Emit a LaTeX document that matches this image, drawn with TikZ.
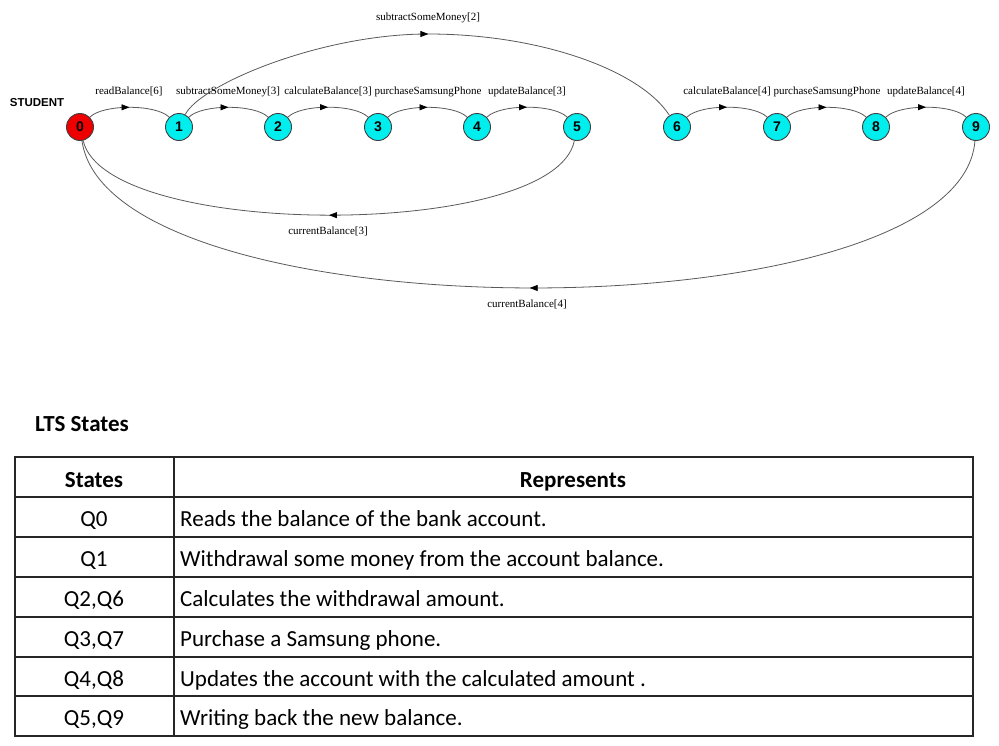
\documentclass[tikz,border=0pt]{standalone}
\usepackage{fontspec}
\newfontfamily\lblfont{Liberation Serif}
\newfontfamily\arialfont{Liberation Sans}
\newfontfamily\calfont{Carlito}
\usetikzlibrary{arrows.meta,decorations.markings}
\definecolor{stcyan}{RGB}{0,238,238}
\definecolor{stred}{RGB}{238,0,0}
\tikzset{
  state/.style={circle, draw=black!75, line width=0.9pt, fill=stcyan, minimum size=27pt, inner sep=0pt,
    font=\arialfont\bfseries\fontsize{14}{14}\selectfont},
  initstate/.style={state, fill=stred},
  trans/.style={draw=black!65, line width=0.8pt, postaction={decorate},
    decoration={markings, mark=at position 0.5 with {\arrow[black]{Triangle[length=8pt,width=6pt]}}}},
  lbl/.style={font=\lblfont\fontsize{11}{12}\selectfont, inner sep=0pt, text height=7.5pt, text depth=2.5pt},
  tab/.style={font=\calfont\fontsize{23}{26}\selectfont, inner sep=0pt, text height=15pt, text depth=4pt, yshift=-3.5pt},
  tabb/.style={font=\calfont\bfseries\fontsize{23}{26}\selectfont, inner sep=0pt, text height=15pt, text depth=4pt, yshift=-3.5pt},
  tline/.style={draw=black!85, line width=1.6pt}
}
\begin{document}
\begin{tikzpicture}[x=1pt,y=1pt]
\useasboundingbox (0,0) rectangle (999,-745);
% states
\node[font=\arialfont\bfseries\fontsize{11.5}{12}\selectfont, inner sep=0pt] (student) at (37,-103) {STUDENT};
\node[initstate] (n0) at (80,-127) {0};
\node[state] (n1) at (179,-127) {1};
\node[state] (n2) at (278,-127) {2};
\node[state] (n3) at (378,-127) {3};
\node[state] (n4) at (477,-127) {4};
\node[state] (n5) at (577,-127) {5};
\node[state] (n6) at (677,-127) {6};
\node[state] (n7) at (777,-127) {7};
\node[state] (n8) at (876,-127) {8};
\node[state] (n9) at (976,-127) {9};
% transitions
\draw[trans] (n0) to[out=45,in=135,looseness=0.6] (n1);
\draw[trans] (n1) to[out=45,in=135,looseness=0.6] (n2);
\draw[trans] (n2) to[out=45,in=135,looseness=0.6] (n3);
\draw[trans] (n3) to[out=45,in=135,looseness=0.6] (n4);
\draw[trans] (n4) to[out=45,in=135,looseness=0.6] (n5);
\draw[trans] (n6) to[out=45,in=135,looseness=0.6] (n7);
\draw[trans] (n7) to[out=45,in=135,looseness=0.6] (n8);
\draw[trans] (n8) to[out=45,in=135,looseness=0.6] (n9);
\coordinate (top) at (428,-34);
\draw[trans] (n1) .. controls (200,-85) and (320,-34) .. (top) .. controls (540,-34) and (640,-70) .. (n6);
\draw[trans] (n5) .. controls (555,-240) and (106,-240) .. (n0);
\draw[trans] (n9) .. controls (960,-337) and (110,-337) .. (n0);
% labels
\node[lbl] (l01) at (129,-92) {readBalance[6]};
\node[lbl] (l12) at (228,-92) {subtractSomeMoney[3]};
\node[lbl] (l23) at (328,-92) {calculateBalance[3]};
\node[lbl] (l34) at (428,-92) {purchaseSamsungPhone};
\node[lbl] (l45) at (527,-92) {updateBalance[3]};
\node[lbl] (l67) at (727,-92) {calculateBalance[4]};
\node[lbl] (l78) at (827,-92) {purchaseSamsungPhone};
\node[lbl] (l89) at (926,-92) {updateBalance[4]};
\node[lbl] (l16) at (428,-18) {subtractSomeMoney[2]};
\node[lbl] (l50) at (328,-232) {currentBalance[3]};
\node[lbl] (l90) at (527,-305) {currentBalance[4]};
% table
\node[tabb, anchor=west] (title) at (35,-422) {LTS States};
\draw[tline] (15,-457) rectangle (973,-736);
\foreach \yy in {497,537,577,617,657,696} \draw[tline] (15,-\yy) -- (973,-\yy);
\draw[tline] (174,-457) -- (174,-736);
\node[tabb] (hs) at (94,-478) {States};
\node[tabb] (hr) at (573,-478) {Represents};
\node[tab] (s0) at (94,-517) {Q0};
\node[tab] (s1) at (94,-557) {Q1};
\node[tab] (s2) at (94,-597) {Q2,Q6};
\node[tab] (s3) at (94,-637) {Q3,Q7};
\node[tab] (s4) at (94,-677) {Q4,Q8};
\node[tab] (s5) at (94,-716) {Q5,Q9};
\node[tab, anchor=west] (r0) at (180,-517) {Reads the balance of the bank account.};
\node[tab, anchor=west] (r1) at (180,-557) {Withdrawal some money from the account balance.};
\node[tab, anchor=west] (r2) at (180,-597) {Calculates the withdrawal amount.};
\node[tab, anchor=west] (r3) at (180,-637) {Purchase a Samsung phone.};
\node[tab, anchor=west] (r4) at (180,-677) {Updates the account with the calculated amount .};
\node[tab, anchor=west] (r5) at (180,-716) {Writing back the new balance.};
\end{tikzpicture}
\end{document}
